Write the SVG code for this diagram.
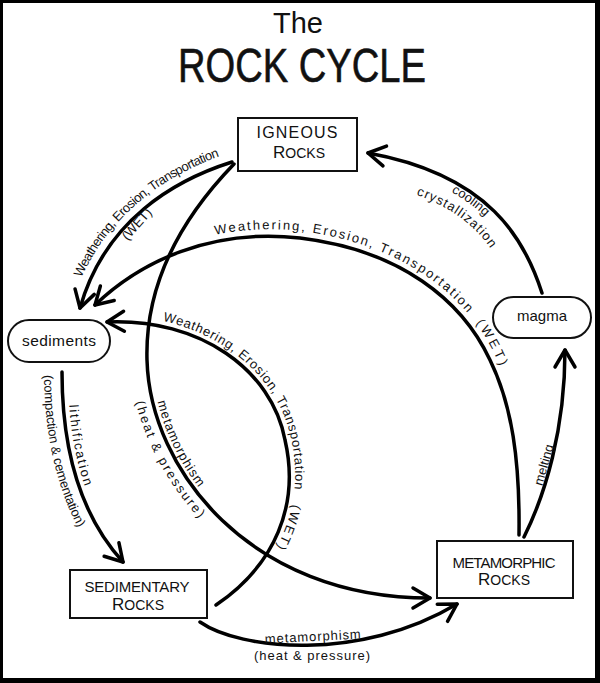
<svg xmlns="http://www.w3.org/2000/svg" width="600" height="683" viewBox="0 0 600 683">
<defs>
<style>
.box{fill:#fff;stroke:#111;stroke-width:2}
.nt{font-family:"Liberation Sans",Arial,sans-serif;fill:#111;text-anchor:middle}
.conn{fill:none;stroke:#000;stroke-width:3.5;stroke-linecap:round}
.lbl{font-family:"Liberation Sans",Arial,sans-serif;fill:#111;font-size:13px}
.mid{text-anchor:middle}
.ttl{font-family:"Liberation Sans",Arial,sans-serif;fill:#111;text-anchor:middle}
</style>
<marker id="ah" markerUnits="userSpaceOnUse" viewBox="-22 -14 26 28" markerWidth="26" markerHeight="28" refX="0" refY="0" orient="auto" overflow="visible">
<path d="M-17,-10 L0,0 L-17,10" fill="none" stroke="#000" stroke-width="3.5" stroke-linecap="round" stroke-linejoin="round"/>
</marker>
<path id="tp1" d="M71,306 C 98,215 171,172 229,153"/>
<path id="tp2a" d="M152,360 C 154.6,468 252.1,593.5 430,593"/>
<path id="tp2b" d="M130,360.5 C 134.4,476.7 242.9,613.5 430,615"/>
<path id="tp3" d="M90,300 C 136,256 209,221 301,231 C 403,244 468,296 496,357 C 519,403 527,460 526,535"/>
<path id="tp4" d="M107,316 C 201,312 277,368 291,439 C 306,504 280,567 219,610"/>
<path id="tp5a" d="M68,372 C 68,449 85,512 127,558"/>
<path id="tp5b" d="M44,372 C 44,452 65,524 110,574"/>
<path id="tp8a" d="M366,164 C 484.7,184.6 514.9,244.4 531.5,296.4"/>
<path id="tp8b" d="M362.9,181.5 C 475.9,200.4 498.5,251.7 514.4,301.8"/>
</defs>

<rect x="0" y="0" width="600" height="683" fill="#fff"/>
<g id="frame" fill="#000">
<rect x="0" y="0" width="600" height="3"/>
<rect x="0" y="0" width="3" height="683"/>
<rect x="595" y="0" width="5" height="683"/>
<rect x="0" y="678" width="600" height="5"/>
</g>

<g id="title">
<text class="ttl" x="298" y="33" font-size="29">The</text>
<text class="ttl" x="302" y="82" font-size="48" textLength="248" lengthAdjust="spacingAndGlyphs" stroke="#111" stroke-width="0.6">ROCK CYCLE</text>
</g>

<g id="connectors">
<path id="c1" class="conn" d="M232,162 C 175,180 105,220 80,308" marker-end="url(#ah)"/>
<path id="c2" class="conn" d="M234,164 C 175,225 145,290 147,360 C 150,470 250,598 430,598" marker-end="url(#ah)"/>
<path id="c3" class="conn" d="M519,535 C 520,460 512,405 490,360 C 462,300 400,250 300,238 C 210,228 140,262 95,305" marker-end="url(#ah)"/>
<path id="c4" class="conn" d="M216,605 C 275,565 300,505 285,440 C 272,370 200,318 107,322" marker-end="url(#ah)"/>
<path id="c5" class="conn" d="M62,372 C 62,450 80,515 123,562" marker-end="url(#ah)"/>
<path id="c6" class="conn" d="M200,622 C 240,650 360,662 457,604" marker-end="url(#ah)"/>
<path id="c7" class="conn" d="M524,537 C 545,495 565,430 565,350" marker-end="url(#ah)"/>
<path id="c8" class="conn" d="M542,293 C 525,240 490,175 368,153" marker-end="url(#ah)"/>
</g>

<g id="connector-labels">
<text class="lbl" font-size="12"><textPath href="#tp1" startOffset="30" textLength="189">Weathering, Erosion, Transportation</textPath></text>
<text class="lbl mid" x="140" y="227" font-size="11" transform="rotate(-48 140 227)">(WET)</text>

<text class="lbl" font-size="14"><textPath href="#tp3" startOffset="143" textLength="276">Weathering, Erosion, Transportation</textPath></text>
<text class="lbl" font-size="14"><textPath href="#tp3" startOffset="432" textLength="50">(WET)</textPath></text>

<text class="lbl" font-size="13.5"><textPath href="#tp4" startOffset="56" textLength="235">Weathering, Erosion, Transportation</textPath></text>
<text class="lbl" font-size="13.5"><textPath href="#tp4" startOffset="306" textLength="46">(WET)</textPath></text>

<text class="lbl" font-size="13"><textPath href="#tp5a" startOffset="33" textLength="83">lithification</textPath></text>
<text class="lbl" font-size="12.5"><textPath href="#tp5b" startOffset="3" textLength="158">(compaction &amp; cementation)</textPath></text>

<text class="lbl" font-size="13"><textPath href="#tp2a" startOffset="42" textLength="96">metamorphism</textPath></text>
<text class="lbl" font-size="13"><textPath href="#tp2b" startOffset="42" textLength="134">(heat &amp; pressure)</textPath></text>

<text class="lbl mid" x="313" y="641" font-size="13" textLength="96" transform="rotate(-3 313 641)">metamorphism</text>
<text class="lbl mid" x="312" y="660" font-size="13" textLength="116">(heat &amp; pressure)</text>

<text class="lbl mid" x="548" y="466" font-size="12" transform="rotate(-74 548 466)">melting</text>

<text class="lbl" font-size="11.5"><textPath href="#tp8a" startOffset="90" textLength="42">cooling</textPath></text>
<text class="lbl" font-size="12"><textPath href="#tp8b" startOffset="55" textLength="93">crystallization</textPath></text>
</g>

<g id="igneous">
<rect class="box" x="238" y="118" width="119" height="53"/>
<text class="nt" x="297" y="138" font-size="16" textLength="81">IGNEOUS</text>
<text class="nt" x="299" y="158" font-size="14"><tspan font-size="17">R</tspan>OCKS</text>
</g>

<g id="magma">
<rect class="box" x="493" y="297" width="98" height="41" rx="20.5"/>
<text class="nt" x="542" y="321" font-size="15">magma</text>
</g>

<g id="sediments">
<rect class="box" x="8" y="320" width="102" height="42" rx="21"/>
<text class="nt" x="59" y="346" font-size="15.5" textLength="74">sediments</text>
</g>

<g id="sedimentary">
<rect class="box" x="70" y="570" width="137" height="48"/>
<text class="nt" x="137" y="592" font-size="15" textLength="105">SEDIMENTARY</text>
<text class="nt" x="138" y="610" font-size="14"><tspan font-size="17">R</tspan>OCKS</text>
</g>

<g id="metamorphic">
<rect class="box" x="437" y="541" width="136" height="57"/>
<text class="nt" x="504" y="568" font-size="15" textLength="103">METAMORPHIC</text>
<text class="nt" x="504" y="585" font-size="14"><tspan font-size="17">R</tspan>OCKS</text>
</g>
</svg>
